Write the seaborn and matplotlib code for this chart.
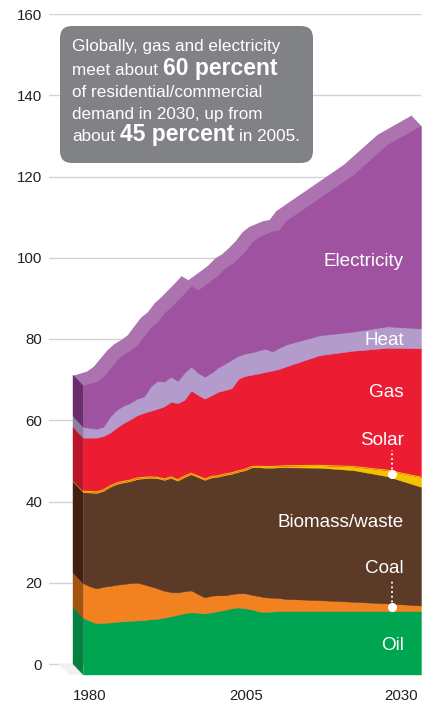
import numpy as np
import matplotlib
matplotlib.use("Agg")
import matplotlib.pyplot as plt
import matplotlib.transforms as mtransforms
from matplotlib.patches import FancyBboxPatch, Polygon
import seaborn as sns

# ---------------- data ----------------
years = [1980, 1981, 1982, 1983, 1984, 1985, 1986, 1987, 1988, 1989,
         1990, 1991, 1992, 1993, 1994, 1995, 1996, 1997, 1998, 1999,
         2000, 2001, 2002, 2003, 2004, 2005, 2006, 2007, 2008, 2009,
         2010, 2015, 2020, 2025, 2030]
oil = [14.0, 13.2, 12.6, 12.7, 12.8, 13.0, 13.1, 13.2, 13.3, 13.4,
       13.6, 13.7, 14.0, 14.3, 14.7, 15.1, 15.3, 15.2, 15.0, 15.3,
       15.6, 15.9, 16.3, 16.5, 16.3, 16.0, 15.5, 15.4, 15.5, 15.6,
       15.6, 15.6, 15.6, 15.6, 15.6]
coal = [8.5, 8.5, 8.6, 8.9, 9.0, 9.1, 9.2, 9.3, 9.3, 8.8,
        8.1, 7.5, 6.6, 6.0, 5.5, 5.4, 5.4, 4.6, 4.0, 4.1,
        3.9, 3.6, 3.5, 3.5, 3.7, 3.6, 3.8, 3.6, 3.4, 3.2,
        3.0, 2.7, 2.3, 1.9, 1.4]
biomass = [22.4, 23.1, 23.5, 23.6, 24.4, 24.8, 25.0, 25.1, 25.5, 26.1,
           26.7, 27.1, 27.3, 28.1, 27.5, 28.1, 28.6, 28.8, 28.9, 29.1,
           29.2, 29.6, 29.6, 29.9, 30.3, 31.4, 31.7, 31.9, 32.0, 32.2,
           32.4, 32.6, 32.4, 31.3, 29.2]
solar = [0.25, 0.25, 0.25, 0.25, 0.25, 0.25, 0.25, 0.25, 0.25, 0.25,
         0.25, 0.25, 0.25, 0.25, 0.25, 0.25, 0.25, 0.25, 0.25, 0.25,
         0.25, 0.25, 0.25, 0.25, 0.25, 0.25, 0.25, 0.3, 0.3, 0.3,
         0.4, 0.6, 0.9, 1.5, 2.4]
gas = [13.15, 13.25, 13.35, 13.25, 13.05, 13.65, 14.35, 14.95, 15.45, 15.85,
       16.25, 16.85, 17.85, 18.45, 18.85, 18.75, 20.35, 19.95, 19.75, 19.95,
       20.65, 20.65, 20.85, 22.65, 22.95, 22.55, 22.85, 23.3, 23.6, 23.9,
       24.4, 27.1, 28.5, 30.1, 31.7]
heat = [2.7, 2.4, 2.2, 2.3, 4.0, 4.4, 4.3, 4.1, 4.1, 4.0,
        6.0, 6.9, 6.1, 6.2, 5.5, 6.7, 5.9, 5.5, 5.4, 5.6,
        6.0, 6.5, 7.0, 5.7, 5.5, 5.5, 5.7, 5.7, 4.7, 5.2,
        5.4, 4.9, 4.7, 5.3, 4.9]
electricity = [10.1, 10.9, 11.6, 12.3, 11.8, 12.1, 12.6, 12.9, 13.1, 14.8,
               14.5, 14.4, 16.8, 17.1, 19.8, 19.5, 19.8, 20.3, 22.5, 22.7,
               22.7, 23.5, 23.5, 24.0, 25.2, 27.1, 27.9, 28.2, 29.6, 29.0,
               30.4, 33.8, 38.6, 44.7, 49.9]

layer_names = ["Oil", "Coal", "Biomass/waste", "Solar", "Gas", "Heat", "Electricity"]
layers = [oil, coal, biomass, solar, gas, heat, electricity]
y_ticks = [0, 20, 40, 60, 80, 100, 120, 140, 160]
x_tick_labels = ["1980", "2005", "2030"]

front_colors = ["#00a551", "#f2821f", "#5c3a28", "#f4c300", "#ec1c33", "#b39bcb", "#9e52a0"]
side_colors = ["#05803f", "#a3540f", "#40200f", "#c89e00", "#bb1429", "#8d7ea3", "#6a2e6a"]
top_color = "#ad73b0"

# ---------------- style ----------------
sns.set_theme(style="white")
plt.rcParams["font.family"] = ["Liberation Sans", "DejaVu Sans"]

W, H = 427, 706
fig = plt.figure(figsize=(W / 100, H / 100), dpi=100)
fig.patch.set_facecolor("white")


def fx(px):
    return px / W


def fy(py):
    return 1 - py / H


# axes geometry (pixel layout)
ax_left, ax_right = 49, 421
y0_px, y160_px = 664, 14
ppu = (y0_px - y160_px) / 160.0
ymin = -2.5
ax_bottom_px = y0_px - ymin * ppu
ppy = 338 / 50.0                       # pixels per year
x_1980_px = 73
xlim = (1980 - (x_1980_px - ax_left) / ppy, 1980 + (ax_right - x_1980_px) / ppy)
ax = fig.add_axes([fx(ax_left), fy(ax_bottom_px),
                   (ax_right - ax_left) / W, (ax_bottom_px - y160_px) / H])
ax.set_xlim(*xlim)
ax.set_ylim(ymin, 160)

# front face offset (3D extrusion)
dx_px, dy_px = 10, 10.5
offset = mtransforms.ScaledTranslation(dx_px / 100, -dy_px / 100, fig.dpi_scale_trans)
front = ax.transData + offset
dxd, dyd = dx_px / ppy, dy_px / ppu

yrs = np.array(years, dtype=float)
vals = np.array(layers, dtype=float)
cum = np.cumsum(vals, axis=0)
lower = np.vstack([np.zeros(len(yrs)), cum[:-1]])
total = cum[-1]

# grid & ticks
ax.set_yticks(y_ticks)
ax.yaxis.grid(True, color="#d2d2d2", lw=1.0)
ax.xaxis.grid(False)
ax.set_axisbelow(True)
for s in ax.spines.values():
    s.set_visible(False)
x_tick_pos = [1980 + (90 - x_1980_px) / ppy, 1980 + (246 - x_1980_px) / ppy,
              1980 + (401 - x_1980_px) / ppy]
ax.set_xticks(x_tick_pos, x_tick_labels)
ax.tick_params(axis="y", left=False, length=0, pad=5, labelsize=10.8, labelcolor="#231f20")
ax.tick_params(axis="x", bottom=False, length=0, pad=11, labelsize=10.8, labelcolor="#231f20")

# floor shadow
ax.add_patch(Polygon([(1980 - 2.2, 0), (1980, 0), (1980 + dxd, -dyd), (1980 - 0.6, -dyd)],
                     closed=True, color="#f1f1f1", lw=0, zorder=1.5, clip_on=False))

# back silhouette (visible as the top surface)
ax.fill_between(yrs, 0, total, color=top_color, lw=0, zorder=2)
ax.add_patch(Polygon([(yrs[-1], 0), (yrs[-1], total[-1]), (yrs[-1] + dxd, total[-1] - dyd),
                      (yrs[-1] + dxd, -dyd)], closed=True, color=top_color, lw=0,
                     zorder=2, clip_on=False))

# left side panel
for i in range(len(layers)):
    lo, hi = lower[i][0], cum[i][0]
    ax.add_patch(Polygon([(yrs[0], lo), (yrs[0], hi), (yrs[0] + dxd, hi - dyd), (yrs[0] + dxd, lo - dyd)],
                         closed=True, color=side_colors[i], lw=0.3, zorder=3, clip_on=False))

# front face
for i in range(len(layers)):
    ax.fill_between(yrs, lower[i], cum[i], facecolor=front_colors[i], edgecolor=front_colors[i],
                    lw=0.3, transform=front, zorder=4, clip_on=False)
sns.lineplot(x=yrs, y=cum[3], color=front_colors[3], lw=0.7, transform=front, ax=ax,
             zorder=4.5, clip_on=False, legend=False)

# layer labels
label_base_px = [650, 572.7, 526.7, 445, 396.7, 345, 265.7]
for name, bp in zip(layer_names, label_base_px):
    fig.text(fx(404), fy(bp), name, color="white", fontsize=13.6, ha="right", va="baseline")

# leader dots for Solar and Coal
dot_year = 1980 + (392 - 83) / ppy
for idx, top_px in [(3, 450), (1, 580)]:
    mid = np.interp(dot_year, yrs, (lower[idx] + cum[idx]) / 2)
    dot_px = 675 - mid * ppu
    y_top = mid + (dot_px - top_px) / ppu
    ax.plot([dot_year, dot_year], [mid, y_top], color="white", lw=1.3,
            linestyle=(0, (1, 1.6)), transform=front, zorder=6, clip_on=False)
    ax.plot([dot_year], [mid], marker="o", ms=5.5, color="white", mec="white",
            transform=front, zorder=6, clip_on=False)

# annotation box
box = FancyBboxPatch((0.60, (H - 163) / 100), 2.53, 1.37,
                     boxstyle="round,pad=0,rounding_size=0.12",
                     transform=fig.dpi_scale_trans, facecolor="#818285", edgecolor="none", zorder=10)
fig.add_artist(box)

reg = dict(family=["Liberation Sans", "DejaVu Sans"], fontsize=12.3, color="white")
bold = dict(family=["Liberation Sans", "DejaVu Sans"], fontsize=16.5, fontweight="bold",
            color="white")
lines = [
    (51, [("Globally, gas and electricity", reg)]),
    (75, [("meet about", reg), ("60 percent", bold)]),
    (97, [("of residential/commercial", reg)]),
    (119, [("demand in 2030, up from", reg)]),
    (141, [("about", reg), ("45 percent", bold), ("in 2005.", reg)]),
]
renderer = fig.canvas.get_renderer()
for base, parts in lines:
    x = 72
    for txt, kw in parts:
        t = fig.text(fx(x), fy(base), txt, ha="left", va="baseline", zorder=11, **kw)
        bb = t.get_window_extent(renderer)
        x = bb.x1 + 5

fig.savefig("out.png", dpi=100, facecolor="white")
